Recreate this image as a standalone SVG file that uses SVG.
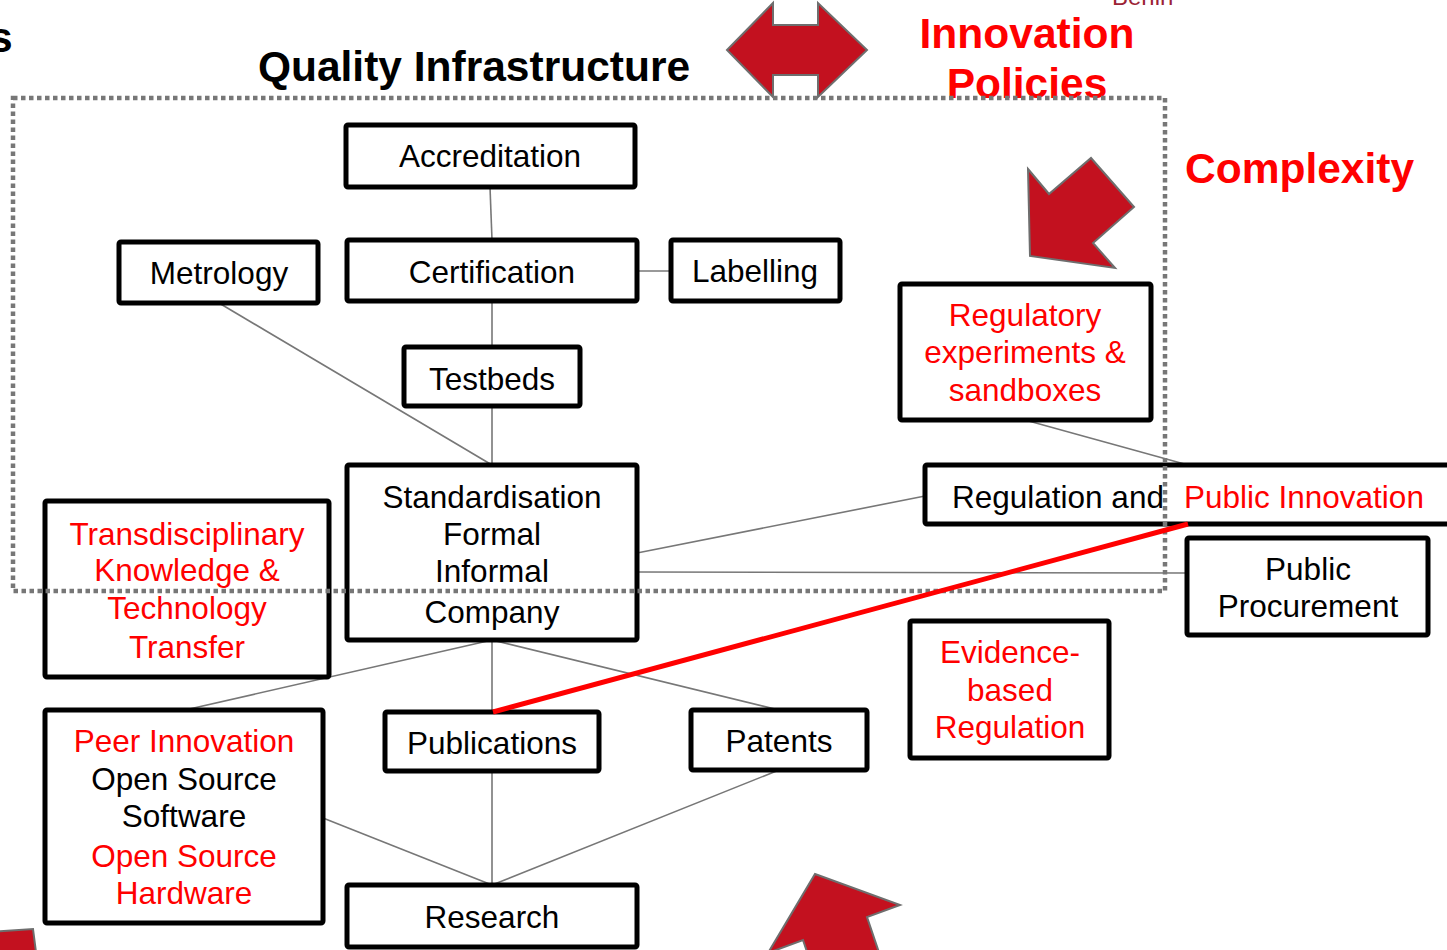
<svg xmlns="http://www.w3.org/2000/svg" width="1447" height="950" viewBox="0 0 1447 950">
<style>
.box{fill:#fff;stroke:#000;stroke-width:5}
.t{font-family:"Liberation Sans",Arial,sans-serif;font-size:31.5px;text-anchor:middle;fill:#000}
.r{fill:#ff0000}
.title{font-family:"Liberation Sans",Arial,sans-serif;font-size:42.5px;font-weight:bold}
.conn{stroke:#777;stroke-width:1.6;fill:none}
.arrow{fill:#c3111f;stroke:#6e6e6e;stroke-width:2;stroke-linejoin:miter}
</style>
<rect width="1447" height="950" fill="#fff"/>
<g id="decor">
<text x="-11" y="52" class="title" fill="#000">s</text>
<text x="1112" y="5" font-family="Liberation Sans,Arial,sans-serif" font-size="24" fill="#9b2335">Berlin</text>
<text x="474" y="81" class="title" fill="#000" text-anchor="middle">Quality Infrastructure</text>
<text x="1027" y="48" class="title" fill="#ff0000" text-anchor="middle">Innovation</text>
<text x="1027" y="98" class="title" fill="#ff0000" text-anchor="middle">Policies</text>
<text x="1185" y="183" class="title" fill="#ff0000">Complexity</text>
<polygon class="arrow" points="727,50 773,3 773,25 818,25 818,3 867,50 818,97 818,75 773,75 773,97"/>
<polygon class="arrow" points="1028,169 1049,194 1091,158 1134,207 1093,243 1115,268 1030,256"/>
<polygon class="arrow" points="815,874 900,905 867,917 890,985 826,1008 803,940 768,953"/>
<polygon class="arrow" points="-10,932 33,929 37,960 -10,960"/>
</g>
<g id="connectors">
<line class="conn" x1="490" y1="187" x2="492" y2="240"/>
<line class="conn" x1="637" y1="271" x2="671" y2="271"/>
<line class="conn" x1="492" y1="301" x2="492" y2="347"/>
<line class="conn" x1="492" y1="406" x2="492" y2="465"/>
<line class="conn" x1="219" y1="303" x2="492" y2="465"/>
<line class="conn" x1="637" y1="553" x2="925" y2="496"/>
<line class="conn" x1="637" y1="572" x2="1187" y2="573"/>
<line class="conn" x1="1025" y1="420" x2="1188" y2="465"/>
<line class="conn" x1="492" y1="640" x2="185" y2="710"/>
<line class="conn" x1="492" y1="640" x2="492" y2="712"/>
<line class="conn" x1="492" y1="640" x2="779" y2="710"/>
<line class="conn" x1="492" y1="771" x2="492" y2="885"/>
<line class="conn" x1="323" y1="818" x2="492" y2="885"/>
<line class="conn" x1="779" y1="770" x2="492" y2="885"/>
</g>
<g id="accreditation"><rect class="box" x="346" y="125" width="289" height="62" rx="2"/><text class="t" x="490" y="167">Accreditation</text></g>
<g id="certification"><rect class="box" x="347" y="240" width="290" height="61" rx="2"/><text class="t" x="492" y="283">Certification</text></g>
<g id="metrology"><rect class="box" x="119" y="242" width="199" height="61" rx="2"/><text class="t" x="219" y="284">Metrology</text></g>
<g id="labelling"><rect class="box" x="671" y="240" width="169" height="61" rx="2"/><text class="t" x="755" y="282">Labelling</text></g>
<g id="testbeds"><rect class="box" x="404" y="347" width="176" height="59" rx="2"/><text class="t" x="492" y="390">Testbeds</text></g>
<g id="standardisation"><rect class="box" x="347" y="465" width="290" height="175" rx="2"/><text class="t" x="492" y="508">Standardisation</text><text class="t" x="492" y="545">Formal</text><text class="t" x="492" y="582">Informal</text><text class="t" x="492" y="623">Company</text></g>
<g id="regulatory-experiments"><rect class="box" x="900" y="284" width="251" height="136" rx="2"/><text class="t r" x="1025" y="326">Regulatory</text><text class="t r" x="1025" y="363">experiments &amp;</text><text class="t r" x="1025" y="401">sandboxes</text></g>
<g id="regulation"><rect class="box" x="925" y="465" width="540" height="59" rx="2"/><text class="t" x="952" y="508" style="text-anchor:start">Regulation and</text><text class="t r" x="1184" y="508" style="text-anchor:start">Public Innovation</text></g>
<g id="public-procurement"><rect class="box" x="1187" y="538" width="241" height="97" rx="2"/><text class="t" x="1308" y="580">Public</text><text class="t" x="1308" y="617">Procurement</text></g>
<g id="transdisciplinary"><rect class="box" x="45" y="501" width="284" height="176" rx="2"/><text class="t r" x="187" y="545">Transdisciplinary</text><text class="t r" x="187" y="581">Knowledge &amp;</text><text class="t r" x="187" y="619">Technology</text><text class="t r" x="187" y="658">Transfer</text></g>
<g id="peer-innovation"><rect class="box" x="45" y="710" width="278" height="213" rx="2"/><text class="t r" x="184" y="752">Peer Innovation</text><text class="t" x="184" y="790">Open Source</text><text class="t" x="184" y="827">Software</text><text class="t r" x="184" y="867">Open Source</text><text class="t r" x="184" y="904">Hardware</text></g>
<g id="publications"><rect class="box" x="385" y="712" width="214" height="59" rx="2"/><text class="t" x="492" y="754">Publications</text></g>
<g id="patents"><rect class="box" x="691" y="710" width="176" height="60" rx="2"/><text class="t" x="779" y="752">Patents</text></g>
<g id="evidence-based"><rect class="box" x="910" y="621" width="199" height="137" rx="2"/><text class="t r" x="1010" y="663">Evidence-</text><text class="t r" x="1010" y="701">based</text><text class="t r" x="1010" y="738">Regulation</text></g>
<g id="research"><rect class="box" x="347" y="885" width="290" height="62" rx="2"/><text class="t" x="492" y="928">Research</text></g>
<g id="overlay">
<rect x="13" y="98" width="1152" height="493" fill="none" stroke="#777" stroke-width="4.5" stroke-dasharray="4.5 3.5"/>
<line x1="493" y1="712" x2="1188" y2="524" stroke="#ff0000" stroke-width="5"/>
</g>
</svg>
